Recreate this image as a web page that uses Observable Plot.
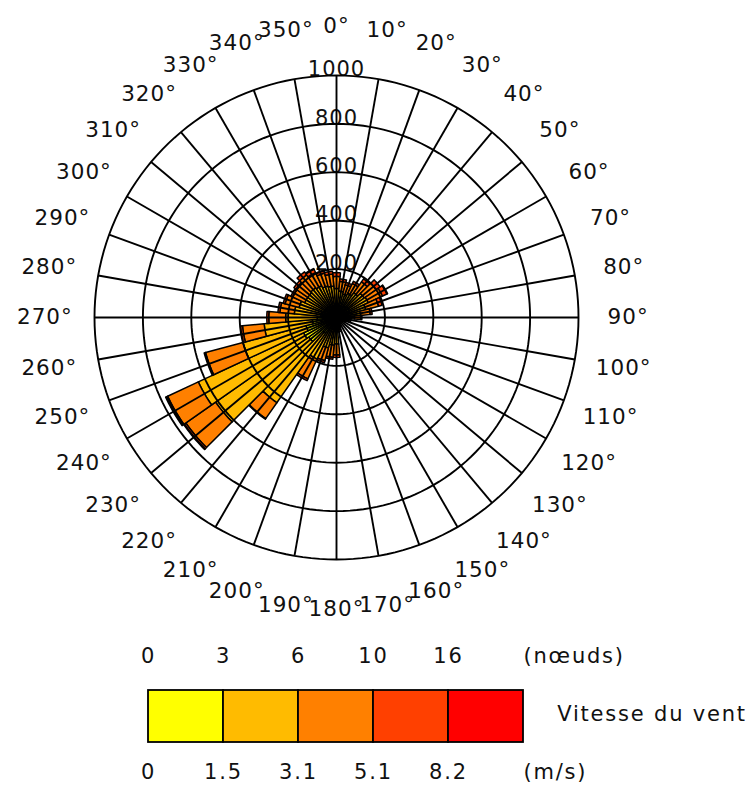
<!DOCTYPE html>
<html><head><meta charset="utf-8">
<script src="https://cdn.jsdelivr.net/npm/d3@7"></script>
<script src="https://cdn.jsdelivr.net/npm/@observablehq/plot@0.6"></script>
<style>
body{margin:0;background:#fff;}
svg{display:block;}
</style>
</head><body><div id="chart"></div><div id="legend"></div>
<script>
// Directions (degrees, bins of 10°)
const directions = d3.range(0, 360, 10);
// Speed classes and colours
const speedClasses = ["0-1.5", "1.5-3.1", "3.1-5.1", "5.1-8.2", ">8.2"];
const classColors = ["#FFFF00", "#FFBB00", "#FF8000", "#FF4000", "#FF0000"];
// Values per class for each direction (0°,10°,...,350°)
const class1 = [50,50,50,50,55,60,60,55,45,35,25,20,15,15,15,15,20,25,45,45,50,60,80,140,150,130,100,80,65,60,55,55,55,55,50,50];
const class2 = [70,60,50,60,70,80,85,70,55,40,25,15,12,10,10,12,15,25,65,70,80,130,350,470,480,270,200,130,110,100,90,90,95,90,85,80];
const class3 = [50,40,40,45,55,60,65,55,40,25,10,5,3,0,0,0,5,10,45,50,55,90,80,150,140,160,90,70,60,60,55,60,65,60,55,50];
const class4 = [15,10,10,10,15,20,20,15,8,5,0,0,0,0,0,0,0,0,10,8,8,8,3,8,6,6,8,8,8,8,8,10,15,15,12,12];
const class5 = [0,0,0,0,0,0,3,0,0,0,0,0,0,0,0,0,0,0,0,0,0,0,0,3,3,0,0,0,0,0,0,0,0,3,0,0];
const ringValues = [200, 400, 600, 800, 1000];
const knotLabels = ["0", "3", "6", "10", "16"];
const msLabels = ["0", "1.5", "3.1", "5.1", "8.2"];

const classValues = [class1, class2, class3, class4, class5];
const rad = d => d * Math.PI / 180;
const px = (r, a) => r * Math.sin(rad(a));
const py = (r, a) => r * Math.cos(rad(a));

// Build sector polygons from the values
const sectorPts = [];
directions.forEach((dir, i) => {
  let r0 = 0;
  classValues.forEach((vals, k) => {
    const v = vals[i];
    if (v <= 0) return;
    const r1 = r0 + v;
    const id = dir + "-" + k;
    const angs = d3.range(dir - 5, dir + 5.001, 1);
    angs.forEach(a => sectorPts.push({id, cls: speedClasses[k], x: px(r1, a), y: py(r1, a)}));
    if (r0 > 0) angs.slice().reverse().forEach(a => sectorPts.push({id, cls: speedClasses[k], x: px(r0, a), y: py(r0, a)}));
    else sectorPts.push({id, cls: speedClasses[k], x: 0, y: 0});
    sectorPts.push({id, cls: speedClasses[k], x: px(r1, dir - 5), y: py(r1, dir - 5)});
    r0 = r1;
  });
});

const ringPts = ringValues.flatMap(r => d3.range(0, 361, 2).map(a => ({r, x: px(r, a), y: py(r, a)})));
const labelR = 1205;

const font = "'DejaVu Sans', sans-serif";
const chart = Plot.plot({
  width: 748, height: 635,
  x: {domain: [-1000, 1000], range: [94, 578], axis: null},
  y: {domain: [-1000, 1000], range: [559, 75], axis: null},
  color: {type: "ordinal", domain: speedClasses, range: classColors},
  style: {fontFamily: font, background: "#fff", overflow: "visible", letterSpacing: "1px"},
  marks: [
    Plot.line(sectorPts, {x: "x", y: "y", z: "id", fill: "cls", stroke: "black", strokeWidth: 1.5, curve: "linear"}),
    Plot.text(ringValues, {x: 0, y: d => d, text: d => String(d), dy: -6, fontSize: 21, fill: "#111"}),
    Plot.line(ringPts, {x: "x", y: "y", z: "r", stroke: "black", strokeWidth: 1.9}),
    Plot.link(directions, {x1: 0, y1: 0, x2: d => px(1000, d), y2: d => py(1000, d), stroke: "black", strokeWidth: 1.9}),
    Plot.text(directions, {x: d => px(labelR, d), y: d => py(labelR, d), text: d => d + "°", fontSize: 21.5, fill: "#111"})
  ]
});
document.getElementById("chart").append(chart);

const legend = Plot.plot({
  width: 748, height: 150,
  x: {domain: [0, 5], range: [148, 523], axis: null},
  y: {domain: [0, 150], range: [0, 150], axis: null},
  color: {type: "ordinal", domain: speedClasses, range: classColors},
  style: {fontFamily: font, background: "#fff", overflow: "visible", letterSpacing: "1.8px"},
  marks: [
    Plot.rect(d3.range(5), {x1: d => d, x2: d => d + 1, y1: 55, y2: 107, fill: d => speedClasses[d], stroke: "black", strokeWidth: 1.8}),
    Plot.text(knotLabels, {x: (d, i) => i, y: 21, text: d => d, fontSize: 21, fill: "#111"}),
    Plot.text(msLabels, {x: (d, i) => i, y: 137, text: d => d, fontSize: 21, fill: "#111"}),
    Plot.text(["(nœuds)"], {x: 5, y: 21, text: d => d, textAnchor: "start", fontSize: 21, fill: "#111"}),
    Plot.text(["(m/s)"], {x: 5, y: 137, text: d => d, textAnchor: "start", fontSize: 21, fill: "#111"}),
    Plot.text(["Vitesse du vent"], {x: 5.45, y: 79, text: d => d, textAnchor: "start", fontSize: 21, fill: "#111"})
  ]
});
document.getElementById("legend").append(legend);
</script>
</body></html>
